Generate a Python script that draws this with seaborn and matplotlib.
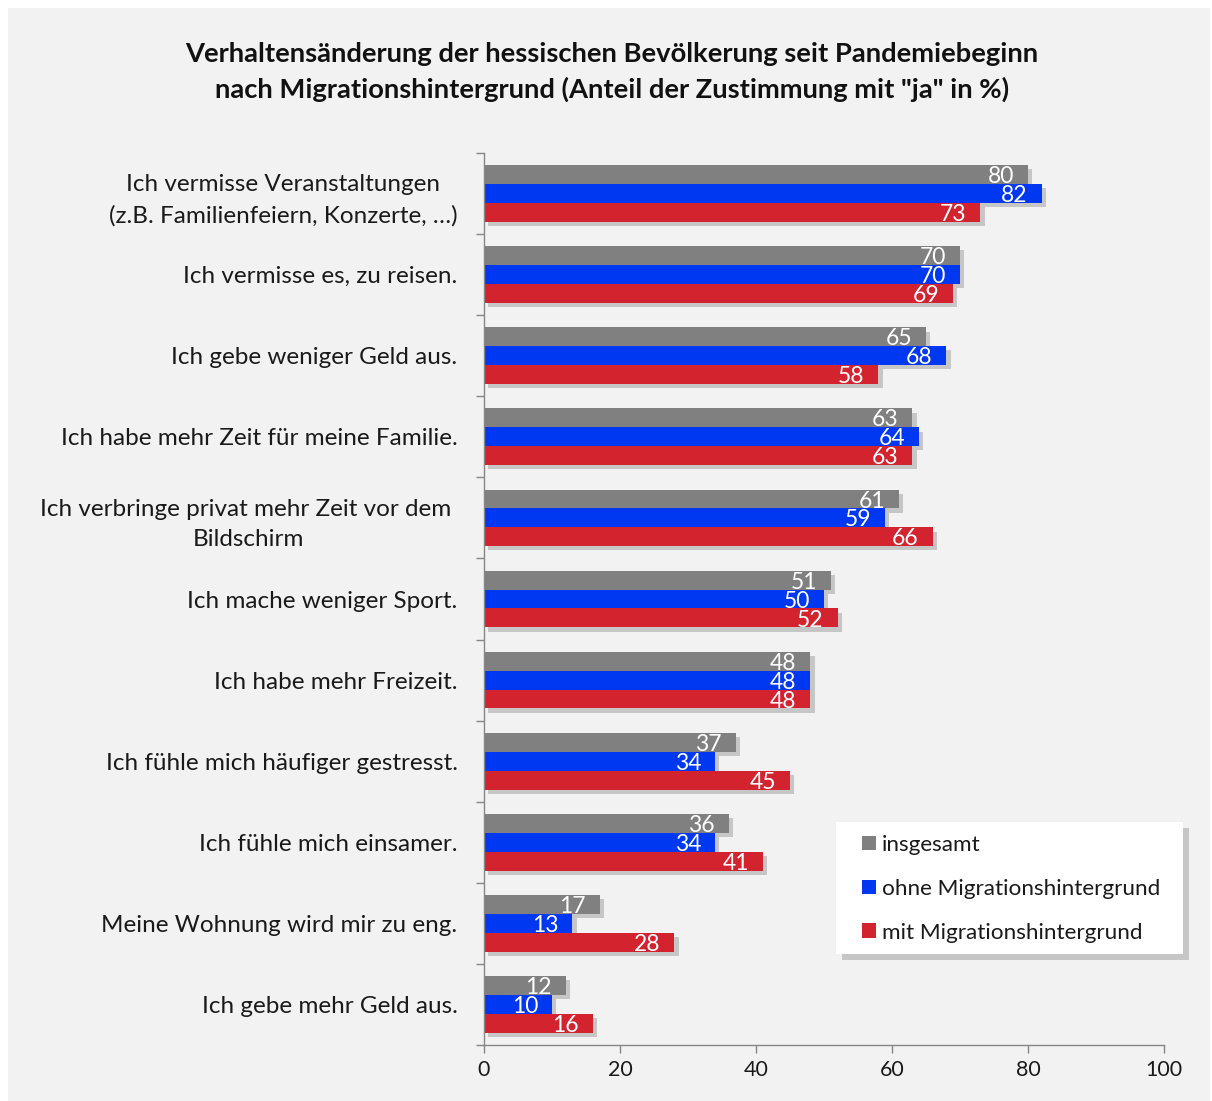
import matplotlib
matplotlib.use("Agg")
import matplotlib.pyplot as plt
import matplotlib.patheffects as pe
from matplotlib.patches import Rectangle, Patch
import seaborn as sns
import pandas as pd

categories = [
    "Ich vermisse Veranstaltungen\n(z.B. Familienfeiern, Konzerte, …)",
    "Ich vermisse es, zu reisen.",
    "Ich gebe weniger Geld aus.",
    "Ich habe mehr Zeit für meine Familie.",
    "Ich verbringe privat mehr Zeit vor dem \nBildschirm",
    "Ich mache weniger Sport.",
    "Ich habe mehr Freizeit.",
    "Ich fühle mich häufiger gestresst.",
    "Ich fühle mich einsamer.",
    "Meine Wohnung wird mir zu eng.",
    "Ich gebe mehr Geld aus.",
]
groups = ["insgesamt", "ohne Migrationshintergrund", "mit Migrationshintergrund"]
insgesamt = [80, 70, 65, 63, 61, 51, 48, 37, 36, 17, 12]
ohne_mig = [82, 70, 68, 64, 59, 50, 48, 34, 34, 13, 10]
mit_mig = [73, 69, 58, 63, 66, 52, 48, 45, 41, 28, 16]
colors = ["#808080", "#0037F0", "#D2232E"]
title = ("Verhaltensänderung der hessischen Bevölkerung seit Pandemiebeginn\n"
         "nach Migrationshintergrund (Anteil der Zustimmung mit \"ja\" in %)")

rows = []
for g, vals in zip(groups, [insgesamt, ohne_mig, mit_mig]):
    for c, v in zip(categories, vals):
        rows.append({"Kategorie": c, "Gruppe": g, "Wert": v})
df = pd.DataFrame(rows)

sns.set_theme(style="white")
plt.rcParams["font.family"] = ["Lato", "DejaVu Sans"]

W, H = 1212, 1101
fig = plt.figure(figsize=(W / 100, H / 100), dpi=100, facecolor="white")
fig.patches.append(Rectangle((8 / W, 0), (W - 10) / W, 1 - 8 / H,
                             transform=fig.transFigure, facecolor="#F2F2F2",
                             edgecolor="none", zorder=-10))
ax = fig.add_axes([484 / W, 1 - 1045 / H, 680 / W, (1045 - 153) / H])
ax.set_facecolor("#F2F2F2")

sns.barplot(data=df, y="Kategorie", x="Wert", hue="Gruppe", orient="h",
            palette=colors, width=0.7, saturation=1, legend=False, ax=ax,
            order=categories, hue_order=groups)

shadow = [pe.SimplePatchShadow(offset=(3, -3), shadow_rgbFace="black", alpha=0.18), pe.Normal()]
for cont in ax.containers:
    for bar in cont:
        bar.set_path_effects(shadow)
        bar.set_edgecolor("none")
        w = bar.get_width()
        ax.annotate(f"{w:.0f}", xy=(w, bar.get_y() + bar.get_height() / 2),
                    xytext=(-10, -1.5), textcoords="offset points", ha="right",
                    va="center", color="white", fontsize=16.5)

n = len(categories)
ax.set_xlim(0, 100)
ax.set_ylim(n - 0.5, -0.5)
ax.set_xticks([0, 20, 40, 60, 80, 100])
ax.set_yticks(range(n))
ax.set_yticklabels(categories, multialignment="center", linespacing=1.55)
ax.set_yticks([i - 0.5 for i in range(n + 1)], minor=True)
ax.tick_params(axis="y", which="major", length=0, pad=19, labelsize=17.5, labelcolor="#1a1a1a")
ax.tick_params(axis="y", which="minor", left=True, length=6, width=1, color="#868686")
ax.tick_params(axis="x", which="major", bottom=True, length=6, width=1, color="#868686",
               labelsize=15.5, labelcolor="#1a1a1a", pad=5)
ax.set_xlabel("")
ax.set_ylabel("")
for s in ["top", "right"]:
    ax.spines[s].set_visible(False)
for s in ["left", "bottom"]:
    ax.spines[s].set_color("#868686")
    ax.spines[s].set_linewidth(1)

fig.text(612 / W, 1 - 72 / H, title, ha="center", va="center", fontsize=19.7,
         fontweight="bold", linespacing=1.5, color="#111111")

# legend box (white with soft shadow)
box = Rectangle((836 / W, 1 - 954 / H), (1183 - 836) / W, (954 - 822) / H,
                transform=fig.transFigure, facecolor="white", edgecolor="none", zorder=5,
                path_effects=[pe.SimplePatchShadow(offset=(4, -4), shadow_rgbFace="black", alpha=0.18),
                              pe.Normal()])
fig.patches.append(box)

handles = [Patch(facecolor=c, edgecolor="none") for c in colors]
leg = fig.legend(handles, groups, loc="upper left",
                 bbox_to_anchor=(862 / W, 1 - 835 / H), bbox_transform=fig.transFigure,
                 frameon=False, fontsize=16.2, handlelength=0.62, handleheight=0.62,
                 handletextpad=0.25, labelspacing=1.06, borderpad=0, borderaxespad=0)
leg.set_zorder(6)
for t in leg.get_texts():
    t.set_color("#1a1a1a")

fig.savefig("out.png", dpi=100, facecolor="white")
